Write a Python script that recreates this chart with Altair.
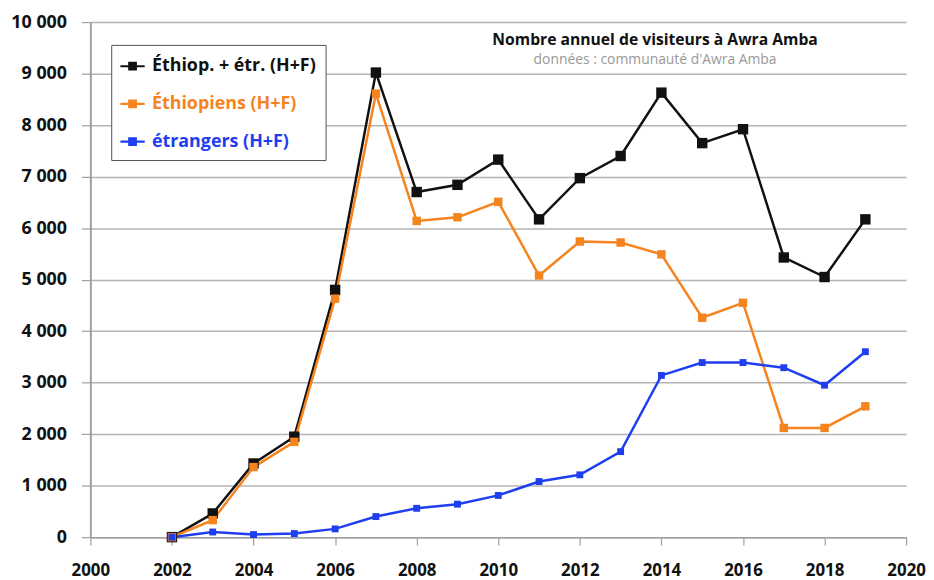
import altair as alt
import pandas as pd

years = list(range(2002, 2020))
series_names = ["Éthiop. + étr. (H+F)", "Éthiopiens (H+F)", "étrangers (H+F)"]
total = [0, 460, 1430, 1950, 4800, 9020, 6700, 6840, 7330, 6170, 6970, 7400, 8630, 7650, 7920, 5430, 5050, 6170]
ethiopiens = [0, 330, 1360, 1850, 4630, 8610, 6140, 6210, 6510, 5080, 5740, 5720, 5490, 4260, 4550, 2120, 2120, 2540]
etrangers = [0, 100, 50, 70, 160, 400, 560, 640, 810, 1080, 1210, 1660, 3140, 3390, 3390, 3290, 2950, 3600]
colors = ["#111111", "#f5841f", "#1f3ef0"]
marker_sizes = [110, 72, 48]
x_ticks = list(range(2000, 2021, 2))
y_ticks = list(range(0, 10001, 1000))

rows = []
for name, vals in zip(series_names, [total, ethiopiens, etrangers]):
    for y, v in zip(years, vals):
        rows.append({"annee": y, "visiteurs": v, "serie": name})
df = pd.DataFrame(rows)

FONT = "Open Sans"

x_enc = alt.X(
    "annee:Q",
    scale=alt.Scale(domain=[2000, 2020], nice=False),
    axis=alt.Axis(
        values=x_ticks, format="d", title=None, grid=False, labelFlush=False,
        labelFont=FONT, labelFontWeight="bold", labelFontSize=17, labelColor="#111",
        tickSize=8, labelPadding=18, domainColor="#a0a0a0", domainWidth=1.5,
        tickColor="#a0a0a0", tickWidth=1.2,
    ),
)
y_enc = alt.Y(
    "visiteurs:Q",
    scale=alt.Scale(domain=[0, 10000], nice=False),
    axis=alt.Axis(
        values=y_ticks, title=None, grid=True, gridColor="#b4b4b4", gridWidth=1.5,
        labelExpr="replace(format(datum.value, ','), ',', ' ')",
        labelFont=FONT, labelFontWeight="bold", labelFontSize=18, labelColor="#111",
        tickSize=9, labelPadding=15, domainColor="#a0a0a0", domainWidth=2,
        tickColor="#a0a0a0", tickWidth=1.2,
    ),
)
color_scale = alt.Scale(domain=series_names, range=colors)

legend = alt.Legend(
    title=None, orient="none", legendX=21, legendY=23,
    direction="vertical",
    fillColor="white", strokeColor="#555555",
    padding=9, rowPadding=16,
    labelFont=FONT, labelFontWeight="bold", labelFontSize=18,
    labelColor=alt.ExprRef("scale('color', datum.value)"),
    symbolFillColor=alt.ExprRef("scale('color', datum.value)"),
    labelLimit=300, labelOffset=7,
    symbolType="M-1,-0.09H1V0.09H-1Z M-0.36,-0.36H0.36V0.36H-0.36Z",
    symbolSize=600, symbolStrokeWidth=0,
)

lines = alt.Chart(df).mark_line(strokeWidth=2.5).encode(
    x=x_enc, y=y_enc,
    color=alt.Color("serie:N", scale=color_scale, sort=series_names, legend=legend),
    detail="serie:N",
)

point_layers = [
    alt.Chart(df).transform_filter(alt.datum.serie == name)
    .mark_point(shape="square", filled=True, opacity=1, color=col, size=sz)
    .encode(x=x_enc, y=y_enc)
    for name, col, sz in zip(series_names, colors, marker_sizes)
]

chart = alt.layer(lines, *point_layers).properties(
    width=822, height=519,
    autosize=alt.AutoSizeParams(type="none"),
    padding={"left": 83, "top": 12, "right": 20, "bottom": 41},
    title=alt.TitleParams(
        text="Nombre annuel de visiteurs à Awra Amba",
        subtitle="données : communauté d'Awra Amba",
        anchor="middle", dx=158, dy=59,
        font=FONT, fontSize=15.8, fontWeight="bold", color="#111",
        subtitleFont=FONT, subtitleFontSize=14, subtitleColor="#999999",
        subtitlePadding=4,
    ),
).configure_view(stroke=None).configure_legend(strokeWidth=1)

chart.save("out.html", embed_options={"renderer": "svg", "actions": False})
